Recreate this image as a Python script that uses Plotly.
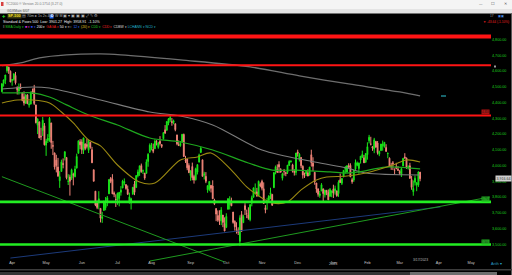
import pandas as pd
import plotly.graph_objects as go

# ------------------------------------------------------------------ data
holidays = ["2022-04-15", "2022-05-30", "2022-06-20", "2022-07-04", "2022-09-05",
            "2022-11-24", "2022-12-26", "2023-01-02", "2023-01-16", "2023-02-20",
            "2023-04-07"]

opens = [
    4469, 4523, 4541, 4602, 4624, 4599,
    4540, 4547, 4572, 4495, 4474, 4494, 4462, 4437, 4395, 4449, 4385, 4390, 4473, 4489, 4385, 4256, 4278, 4187, 4223, 4253,
    4130, 4159, 4181, 4271, 4128, 4081, 4035, 3991, 3904, 3963, 4013, 4052, 4052, 3900, 3928, 3920, 3943, 3930, 3984, 4078, 4151,
    4150, 4096, 4137, 4134, 4097, 4148, 4101, 3974, 3838, 3763, 3764, 3729, 3665, 3716, 3733, 3775, 3821, 3920, 3913, 3826, 3785,
    3782, 3792, 3831, 3858, 3889, 3880, 3851, 3770, 3764, 3818, 3883, 3861, 3935, 3955, 4000, 3966, 3953, 3951, 4026, 4088,
    4113, 4104, 4107, 4154, 4116, 4155, 4133, 4171, 4227, 4225, 4270, 4290, 4280, 4274, 4266, 4195, 4134, 4127, 4153, 4198, 4035, 4042, 4001,
    3937, 3994, 3931, 3910, 3959, 4022, 4083, 4037, 3940, 3932, 3847, 3849, 3875, 3871, 3782, 3728, 3682, 3687, 3651, 3687, 3633,
    3609, 3723, 3753, 3771, 3706, 3647, 3595, 3590, 3520, 3690, 3638, 3746, 3695, 3689, 3657, 3762, 3799, 3825, 3834, 3808, 3882,
    3901, 3853, 3733, 3766, 3781, 3817, 3818, 3860, 3964, 3977, 4007, 3976, 3920, 3967, 3956, 3957, 4001, 4024, 4005, 3964, 3957,
    4087, 4040, 4052, 3996, 3937, 3947, 3954, 3940, 4069, 4016, 3958, 3890, 3853, 3810, 3839, 3853, 3815, 3843, 3829, 3805, 3829,
    3853, 3840, 3840, 3823, 3910, 3888, 3932, 3977, 3960, 3999, 4002, 3911, 3909, 3978, 4002, 3982, 4036, 4053, 4050, 4021,
    4070, 4158, 4136, 4120, 4105, 4153, 4144, 4073, 4096, 4126, 4120, 4115, 4077, 4047, 4001, 4018, 3973, 3993, 3977,
    3964, 3939, 3998, 4055, 4049, 3988, 3999, 3912, 3835, 3894, 3876, 3878, 3959,
]
highs = [
    4520, 4546, 4575, 4637, 4627, 4603,
    4548, 4583, 4594, 4503, 4521, 4521, 4464, 4471, 4453, 4453, 4411, 4471, 4489, 4512, 4386, 4300, 4278, 4240, 4309, 4270,
    4169, 4200, 4308, 4271, 4157, 4081, 4069, 4049, 3965, 4038, 4046, 4091, 4052, 3946, 3943, 3981, 3955, 3999, 4076, 4158, 4168,
    4167, 4177, 4142, 4169, 4164, 4149, 4119, 3974, 3839, 3778, 3838, 3729, 3707, 3779, 3801, 3808, 3914, 3928, 3946, 3836, 3818,
    3829, 3832, 3870, 3910, 3919, 3880, 3874, 3829, 3796, 3863, 3903, 3940, 3975, 3999, 4013, 3975, 3953, 4040, 4079, 4141,
    4144, 4140, 4167, 4162, 4151, 4187, 4137, 4211, 4257, 4280, 4302, 4325, 4302, 4292, 4266, 4195, 4160, 4156, 4200, 4203, 4062, 4044, 4015,
    3970, 4019, 3942, 3987, 4010, 4076, 4119, 4037, 3961, 3959, 3875, 3900, 3877, 3907, 3790, 3728, 3716, 3717, 3737, 3687, 3672,
    3698, 3791, 3806, 3797, 3706, 3653, 3641, 3609, 3685, 3712, 3689, 3762, 3721, 3736, 3757, 3810, 3862, 3887, 3859, 3905, 3893,
    3911, 3894, 3750, 3796, 3813, 3860, 3818, 3958, 4001, 4008, 4028, 3984, 3955, 3979, 3962, 4004, 4034, 4035, 4012, 3977, 4080,
    4101, 4080, 4053, 4002, 3956, 3966, 3977, 3991, 4101, 4053, 3958, 3890, 3854, 3839, 3889, 3853, 3845, 3846, 3849, 3858, 3840,
    3879, 3873, 3840, 3907, 3950, 3920, 3970, 3998, 4003, 4015, 4015, 3923, 3973, 4039, 4026, 4020, 4061, 4095, 4068, 4077,
    4148, 4195, 4183, 4124, 4176, 4157, 4156, 4095, 4138, 4159, 4148, 4136, 4081, 4052, 4018, 4029, 3983, 4018, 3997,
    3972, 3990, 4049, 4079, 4050, 4002, 4018, 3934, 3906, 3937, 3894, 3964, 3959,
]
lows = [
    4465, 4501, 4517, 4589, 4582, 4530,
    4507, 4539, 4514, 4451, 4450, 4487, 4408, 4381, 4393, 4392, 4368, 4390, 4455, 4384, 4268, 4200, 4175, 4162, 4188, 4128,
    4062, 4144, 4151, 4107, 4067, 3975, 3957, 3928, 3859, 3963, 3983, 4033, 3913, 3877, 3810, 3909, 3875, 3926, 3984, 4078, 4104,
    4074, 4074, 4098, 4109, 4080, 4107, 4017, 3900, 3743, 3724, 3723, 3640, 3637, 3716, 3717, 3743, 3821, 3889, 3820, 3800, 3738,
    3752, 3742, 3810, 3858, 3875, 3847, 3814, 3759, 3722, 3818, 3813, 3861, 3925, 3935, 3955, 3947, 3910, 3951, 3993, 4080,
    4097, 4079, 4107, 4128, 4107, 4128, 4112, 4165, 4201, 4220, 4256, 4277, 4253, 4262, 4218, 4129, 4124, 4120, 4147, 4057, 4017, 3971, 3954,
    3904, 3907, 3886, 3906, 3944, 4022, 4083, 3932, 3912, 3889, 3828, 3838, 3830, 3789, 3750, 3648, 3644, 3624, 3623, 3610, 3584,
    3604, 3723, 3722, 3744, 3632, 3588, 3569, 3560, 3491, 3584, 3638, 3687, 3667, 3657, 3647, 3742, 3799, 3825, 3803, 3808, 3863,
    3843, 3759, 3698, 3721, 3764, 3787, 3745, 3860, 3945, 3956, 3953, 3955, 3906, 3937, 3933, 3947, 3999, 4020, 3956, 3937, 3939,
    4057, 4026, 3984, 3918, 3922, 3934, 3933, 3937, 3994, 3966, 3879, 3828, 3803, 3796, 3839, 3765, 3798, 3813, 3783, 3805, 3800,
    3795, 3816, 3803, 3802, 3890, 3877, 3925, 3950, 3955, 3984, 3928, 3885, 3897, 3972, 3996, 3949, 4013, 4048, 4017, 4020,
    4038, 4141, 4128, 4094, 4079, 4112, 4070, 4060, 4092, 4095, 4114, 4089, 4047, 3996, 3973, 3972, 3943, 3977, 3968,
    3940, 3928, 3998, 4045, 3980, 3975, 3918, 3847, 3809, 3874, 3838, 3865, 3901,
]
closes = [
    4520, 4543, 4575, 4631, 4602, 4530,
    4546, 4583, 4525, 4481, 4500, 4488, 4413, 4397, 4447, 4392, 4391, 4463, 4459, 4394, 4272, 4296, 4175, 4183, 4288, 4132,
    4155, 4175, 4300, 4147, 4123, 3991, 4001, 3935, 3930, 4024, 4008, 4088, 3923, 3901, 3901, 3974, 3941, 3979, 4058, 4158, 4132,
    4101, 4176, 4109, 4121, 4161, 4116, 4018, 3901, 3750, 3735, 3790, 3667, 3675, 3765, 3760, 3796, 3912, 3900, 3821, 3819, 3785,
    3825, 3831, 3845, 3902, 3899, 3855, 3819, 3802, 3790, 3863, 3831, 3937, 3960, 3999, 3962, 3967, 3921, 4024, 4072, 4130,
    4119, 4091, 4155, 4152, 4145, 4140, 4122, 4210, 4207, 4280, 4297, 4305, 4274, 4284, 4228, 4138, 4128, 4141, 4199, 4058, 4031, 3986, 3955,
    3967, 3924, 3909, 3980, 4006, 4067, 4110, 3932, 3946, 3901, 3873, 3900, 3856, 3790, 3758, 3693, 3655, 3647, 3719, 3640, 3586,
    3678, 3791, 3783, 3745, 3640, 3612, 3589, 3577, 3669, 3583, 3678, 3720, 3695, 3666, 3752, 3797, 3859, 3831, 3807, 3901, 3872,
    3856, 3760, 3720, 3771, 3807, 3828, 3749, 3956, 3993, 3957, 3992, 3959, 3947, 3965, 3950, 4003, 4027, 4026, 3964, 3958, 4080,
    4077, 4072, 3999, 3941, 3933, 3964, 3934, 3991, 4019, 3996, 3896, 3852, 3818, 3821, 3879, 3823, 3845, 3829, 3783, 3849, 3840,
    3825, 3853, 3809, 3895, 3893, 3919, 3970, 3983, 3999, 3991, 3929, 3898, 3973, 4020, 4017, 4016, 4060, 4071, 4018, 4077,
    4120, 4180, 4136, 4111, 4164, 4118, 4082, 4090, 4137, 4136, 4148, 4090, 4079, 3997, 3991, 4012, 3970, 3982, 3970,
    3951, 3981, 4046, 4048, 3986, 3992, 3919, 3862, 3855, 3920, 3892, 3960, 3917,
]

# trading days of the chart (weekdays minus exchange holidays)
bar_dates = list(pd.bdate_range("2022-03-24", "2023-03-17", freq="C", holidays=holidays))

# moving averages
upper_avg_dates = ["2022-03-24", "2022-04-08", "2022-04-26", "2022-05-18", "2022-06-16", "2022-07-06",
                   "2022-08-24", "2022-10-21", "2022-12-02", "2023-01-17", "2023-03-01", "2023-03-17"]
upper_avg_vals = [4634, 4651, 4683, 4702, 4708, 4702, 4670, 4626, 4569, 4518, 4467, 4442]

sma200_dates = ["2022-03-24", "2022-04-20", "2022-05-04", "2022-06-16", "2022-07-29", "2022-08-24",
                "2022-09-21", "2022-11-01", "2022-12-15", "2023-01-13", "2023-01-31", "2023-03-17"]
sma200_vals = [4486, 4499, 4492, 4416, 4340, 4315, 4258, 4099, 4023, 3985, 3953, 3941]

sma100_dates = ["2022-03-24", "2022-04-06", "2022-04-20", "2022-05-04", "2022-05-18", "2022-06-07",
                "2022-07-01", "2022-07-29", "2022-08-24", "2022-09-21", "2022-10-20", "2022-11-09",
                "2022-11-30", "2022-12-29", "2023-01-13", "2023-01-25", "2023-02-16", "2023-03-17"]
sma100_vals = [4461, 4461, 4461, 4435, 4385, 4321, 4258, 4175, 4150, 4099, 4017, 3972,
               3972, 3960, 3953, 3960, 3991, 3979]

sma50_dates = ["2022-03-24", "2022-04-06", "2022-04-20", "2022-05-04", "2022-05-13", "2022-05-24",
               "2022-06-07", "2022-06-16", "2022-07-01", "2022-07-21", "2022-08-03", "2022-08-24",
               "2022-09-08", "2022-09-20", "2022-10-06", "2022-10-19", "2022-11-01", "2022-11-09",
               "2022-11-22", "2022-12-05", "2022-12-16", "2022-12-27", "2023-01-13", "2023-01-31",
               "2023-02-23", "2023-03-07", "2023-03-17"]
sma50_vals = [4397, 4416, 4416, 4397, 4340, 4271, 4163, 4125, 4004, 3896, 3890, 4036,
              4055, 4080, 3972, 3865, 3795, 3763, 3770, 3846, 3909, 3928, 3934, 3953,
              4004, 4036, 4023]

# trendlines (two end points each)
navy_trend_dates = ["2022-03-31", "2023-04-04"]
navy_trend_vals = [3414, 3738]
rising_trend_dates = ["2022-07-29", "2023-05-16"]
rising_trend_vals = [3395, 3801]
falling_trend_dates = ["2022-03-24", "2022-09-30"]
falling_trend_vals = [3930, 3389]

# horizontal levels
red_levels = [4818, 4636, 4318]
green_levels = [3770, 3500]
last_price = 3916.64

# axes
y_ticks = [3500, 3600, 3700, 3800, 3900, 4000, 4100, 4200, 4300, 4400, 4500, 4600, 4700, 4800]
y_tick_labels = ["3,500.00", "3,600.00", "3,700.00", "3,800.00", "3,900.00", "4,000.00", "4,100.00",
                 "4,200.00", "4,300.00", "4,400.00", "4,500.00", "4,600.00", "4,700.00", "4,800.00"]
month_ticks = ["2022-04-01", "2022-05-02", "2022-06-01", "2022-07-01", "2022-08-01", "2022-09-01",
               "2022-10-03", "2022-11-01", "2022-12-01", "2023-01-03", "2023-02-01", "2023-03-01",
               "2023-04-03", "2023-05-01"]
month_labels = ["Apr", "May", "Jun", "Jul", "Aug", "Sep", "Oct", "Nov", "Dec", "Jan", "Feb", "Mar", "Apr", "May"]

# ------------------------------------------------------------------ layout helpers
W, H = 512, 275
ML, MR, MT, MB = 0, 21, 30, 7
PW = W - ML - MR
PH = H - MT - MB


def px(x):
    return (x - ML) / PW


def py(y):
    return (H - MB - y) / PH


FONT = "Liberation Sans, Arial, sans-serif"

n = min(len(bar_dates), len(opens), len(highs), len(lows), len(closes))

fig = go.Figure()

fig.add_trace(go.Candlestick(
    x=bar_dates[:n], open=opens[:n], high=highs[:n], low=lows[:n], close=closes[:n],
    increasing=dict(line=dict(color="#19e619", width=1), fillcolor="#19e619"),
    decreasing=dict(line=dict(color="#f08478", width=1), fillcolor="#f08478"),
    whiskerwidth=0, showlegend=False, hoverinfo="skip"))

line_specs = [
    (upper_avg_dates, upper_avg_vals, "#6e6e6e", 1.3),
    (sma200_dates, sma200_vals, "#7c7c7c", 1.1),
    (sma100_dates, sma100_vals, "#1ea81e", 1.2),
    (sma50_dates, sma50_vals, "#9c8a12", 1.1),
]
for d, v, c, w in line_specs:
    fig.add_trace(go.Scatter(x=d, y=v, mode="lines", line=dict(color=c, width=w, shape="spline", smoothing=0.9),
                             showlegend=False, hoverinfo="skip"))

for d, v, c in [(navy_trend_dates, navy_trend_vals, "#1c3a7a"),
                (rising_trend_dates, rising_trend_vals, "#1f9a1f"),
                (falling_trend_dates, falling_trend_vals, "#1f9a1f")]:
    fig.add_trace(go.Scatter(x=d, y=v, mode="lines", line=dict(color=c, width=1),
                             showlegend=False, hoverinfo="skip"))

red_widths = [4, 2, 2]
for lv, w in zip(red_levels, red_widths):
    fig.add_shape(type="line", xref="paper", x0=0, x1=1, yref="y", y0=lv, y1=lv,
                  line=dict(color="#ff1414", width=w))
for lv in green_levels:
    fig.add_shape(type="line", xref="paper", x0=0, x1=1, yref="y", y0=lv, y1=lv,
                  line=dict(color="#22ee22", width=2.6))

# small value boxes at the right end of the level lines
for lv, bg in [(red_levels[2], "#b01010"), (green_levels[0], "#1fae1f"), (green_levels[1], "#1fae1f")]:
    fig.add_annotation(xref="paper", x=px(490), xanchor="right", yref="y", y=lv, yanchor="bottom",
                       text=f"{lv:,}", showarrow=False, bgcolor=bg, borderpad=0,
                       font=dict(family=FONT, size=2.6, color="#202020"))

# last price box
fig.add_annotation(xref="paper", x=px(495), xanchor="left", yref="y", y=last_price, yanchor="middle",
                   text=f"{last_price:,.2f}", showarrow=False, bgcolor="#cfcfcf", borderpad=0.5,
                   font=dict(family=FONT, size=3.6, color="#303030"))

# year under January, last-date label
fig.add_annotation(x="2023-01-03", xref="x", yref="paper", y=py(267.5), text="2023", showarrow=False,
                   font=dict(family=FONT, size=3.8, color="#bdbdbd"))
fig.add_annotation(x="2023-03-17", xref="x", yref="paper", y=py(263.5), text="3/17/2023", showarrow=False,
                   font=dict(family=FONT, size=3.4, color="#bdbdbd"))

# ------------------------------------------------------------------ window chrome
shapes = [
    dict(type="rect", x0=px(0), x1=px(512), y0=py(9), y1=py(0), fillcolor="#f4f4f4", line=dict(width=0)),
    dict(type="rect", x0=px(0), x1=px(512), y0=py(13.5), y1=py(9), fillcolor="#e4e4e4", line=dict(width=0)),
    dict(type="rect", x0=px(1), x1=px(3.5), y0=py(6), y1=py(2), fillcolor="#d84040", line=dict(width=0)),
    dict(type="rect", x0=px(49.5), x1=px(53.5), y0=py(18.5), y1=py(14.5), fillcolor="#2a6cf0", line=dict(width=0)),
    dict(type="line", x0=px(511.5), x1=px(511.5), y0=py(275), y1=py(13.5), line=dict(color="#5a5a5a", width=1)),
    dict(type="rect", x0=px(0), x1=px(512), y0=py(270.5), y1=py(269), fillcolor="#3c3c3c", line=dict(width=0)),
    dict(type="rect", x0=px(0), x1=px(410), y0=py(275), y1=py(272), fillcolor="#353535", line=dict(width=0)),
    dict(type="rect", x0=px(410), x1=px(497), y0=py(275), y1=py(272), fillcolor="#6e6e6e", line=dict(width=0)),
    dict(type="line", x0=px(441), x1=px(446), y0=py(96), y1=py(96), line=dict(color="#30c8d8", width=1)),
    dict(type="rect", x0=px(494), x1=px(496), y0=py(67.5), y1=py(65.5), fillcolor="#9a9a9a", line=dict(width=0)),
]
for s in shapes:
    s.setdefault("xref", "paper")
    s.setdefault("yref", "paper")
    fig.add_shape(**s)


def label(x, y, text, color="#d0d0d0", size=3.8, anchor="left", bg=None):
    fig.add_annotation(xref="paper", yref="paper", x=px(x), y=py(y), xanchor=anchor, yanchor="middle",
                       text=text, showarrow=False, bgcolor=bg, borderpad=0,
                       font=dict(family=FONT, size=size, color=color))


label(5, 4.5, "TC2000 ® Version 20.0.1754 (3.27.0)", "#7a7a7a", 3.4)
label(481, 4, "—", "#555555", 3.4, "center")
label(493, 4, "☐", "#555555", 3.6, "center")
label(505, 4, "✕", "#555555", 3.6, "center")
label(6, 11.2, "GDXMain 6/07", "#555555", 3.4)
label(1, 16.5, "✚", "#22cc22", 4)
label(7, 16.5, "<b>SP-500</b>", "#f0e020", 3.8, bg="#3a3a10")
label(21, 16.5, "▤ 70m ▸ 1s 2s 4h", "#b0b0b0", 3.6)
label(50, 16.5, "<b>D</b>", "#ffffff", 3.6)
label(54, 16.5, "W M ▣ ▾ ▣ ▣ ▣ ⤢ ✎ ⚙", "#b0b0b0", 3.6)
label(2, 22, "Standard &amp; Poors 500  Low: 3901.27  High: 3958.91  -1.10%", "#f0f0f0", 3.6)
label(489, 16.5, "17", "#a0a0a0", 3.2)
label(497, 16.5, "▣▣", "#4a90f0", 3.2)
label(482, 22, "▼ -43.64 (-1.10%)", "#ee2020", 3.2)
label(2, 27.3,
      '<span style="color:#999">‖ </span><span style="color:#22cc22">SMA Daily ▾</span>'
      '<span style="color:#e030e0"> ■ ▾</span><span style="color:#3050ff"> ■ ▾</span>'
      '<span style="color:#ffffff"> 200 ▾</span><span style="color:#ee2020"> GAGA ▾</span>'
      '<span style="color:#ffffff"> 50 ▾</span><span style="color:#666"> ■ ▾</span>'
      '<span style="color:#3070ff"> 12 ▾</span><span style="color:#e0c020"> (20) ▾</span>'
      '<span style="color:#22cc22"> CDD ▾</span><span style="color:#ee2020"> CDD ▾</span>'
      '<span style="color:#dddddd"> CDBW ▾</span><span style="color:#20b8d0"> LCHANN ▾</span>'
      '<span style="color:#20b8d0"> NCD ▾</span>',
      "#cccccc", 3.4)
label(490, 264, "Arith ▾", "#2aa0c8", 3.8)

# ------------------------------------------------------------------ axes
fig.update_xaxes(type="date", range=["2022-03-22 21:00", "2023-05-16 17:00"],
                 rangebreaks=[dict(bounds=["sat", "mon"]), dict(values=holidays)],
                 tickvals=month_ticks, ticktext=month_labels, ticklabelposition="inside",
                 ticks="", showgrid=False, zeroline=False, showline=False,
                 tickfont=dict(family=FONT, size=3.8, color="#c4c4c4"),
                 rangeslider=dict(visible=False))
fig.update_yaxes(side="right", range=[3351, 4860], tickvals=y_ticks, ticktext=y_tick_labels,
                 ticks="", showgrid=False, zeroline=False, showline=False,
                 tickfont=dict(family=FONT, size=3.7, color="#1ed01e"))

fig.update_layout(width=W, height=H, margin=dict(l=ML, r=MR, t=MT, b=MB, pad=0),
                  paper_bgcolor="#000000", plot_bgcolor="#000000", showlegend=False,
                  autosize=False, hovermode=False)

fig.write_html("out.html", config={"displayModeBar": False})
